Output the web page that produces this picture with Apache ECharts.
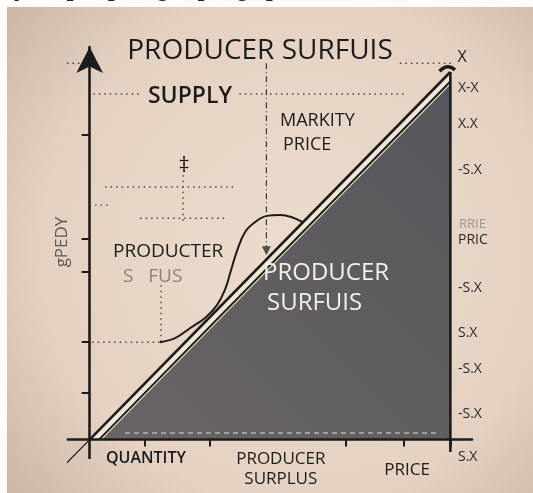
<!DOCTYPE html>
<html>
<head>
<meta charset="utf-8">
<title>Producer surplus</title>
<script src="https://cdn.jsdelivr.net/npm/echarts@6/dist/echarts.min.js"></script>
<style>
  html, body { margin: 0; padding: 0; background: #fdfcfa; }
  #chart { width: 533px; height: 493px; }
</style>
</head>
<body>
<div id="chart"></div>
<script>
// ticks on the two axes (data units, origin at the axes cross)
var xTicks = [15.4, 33.4, 71.1, 87.2, 100]
var yTicks = [12.7, 26.6, 45.7, 54.7, 83.0]

// labels under the quantity axis
var bottomLabels = ['QUANTITY', 'PRODUCER\nSURPLUS', 'PRICE']
var bottomLabelX = [15.6, 53, 88]

// labels to the right of the price edge
var rightLabels = ['X-X', 'X.X', '-S.X', 'PRIC', '-S.X', 'S.X', '-S.X', '-S.X', 'S.X']
var rightLabelY = [95.6, 85.8, 73.3, 54.2, 41.3, 29.0, 19.2, 6.9, -4.8]

// the supply line and the surplus triangle
var outerLine = [[0, 0], [100, 100]]
var innerLine = [[2.6, 0], [100, 97.4]]
var surplusEdge = [[3.4, 0], [100, 96.6]]
var lineTail = [[-8.3, -8.3], [0, 0]]
var priceEdge = [[100, -3.4], [100, 100]]
var lineCap = [[97, 100.2], [99.4, 101.4], [101.3, 100.6]]

// the s-shaped supply curve
var supplyCurve = [
  [19.5, 26.5], [23.7, 27.6], [27.8, 30.3], [32.0, 33.1], [35.3, 36.6],
  [37.5, 40.7], [39.2, 46.1], [40.9, 51.5], [43.1, 56.5], [45.9, 59.2],
  [48.9, 60.8], [52.8, 61.1], [56.1, 60.5], [58.9, 59.2]
]

// dotted guide lines
var guideLines = [
  [[-6.3, 102.4], [0, 102.4]],
  [[86, 102.4], [101, 102.4]],
  [[1, 94], [14.5, 94]],
  [[41.5, 94], [48, 94]],
  [[50, 94], [87.5, 94]],
  [[4.3, 68.7], [40.6, 68.7]],
  [[1.5, 63.8], [5.7, 63.8]],
  [[14, 60.2], [38.4, 60.2]],
  [[25.9, 71.9], [25.9, 59.2]],
  [[0.7, 26.5], [19.5, 26.5]],
  [[19.8, 42], [19.8, 26.5]]
]
var marketLine = [[49, 102.4], [49, 52.4]]
var marketArrow = [[49, 51.4]]
var baseDashes = [[9.8, 1.8], [97.2, 1.8]]

var ink = '#1c1c1c'
var font = 'Open Sans'

var chart = echarts.init(document.getElementById('chart'))

function plainLine(name, data, width, extra) {
  var s = {
    name: name,
    type: 'line',
    data: data,
    symbol: 'none',
    silent: true,
    clip: false,
    z: 5,
    lineStyle: { color: ink, width: width }
  }
  return Object.assign(s, extra || {})
}

var series = [
  plainLine('band', outerLine, 0, {
    z: 2,
    areaStyle: { color: '#f1e5d6', opacity: 1 }
  }),
  plainLine('surplus', surplusEdge, 0, {
    z: 3,
    areaStyle: {
      opacity: 1,
      color: new echarts.graphic.LinearGradient(1, 0, 0, 1, [
        { offset: 0, color: '#55565b' },
        { offset: 1, color: '#6a6563' }
      ])
    }
  }),
  plainLine('inner', innerLine, 2),
  plainLine('outer', outerLine, 2.6),
  plainLine('tail', lineTail, 1.3),
  plainLine('priceEdge', priceEdge, 2.6),
  plainLine('cap', lineCap, 3.5, { smooth: true }),
  plainLine('supply', supplyCurve, 2, { smooth: 0.4, z: 6 }),
  plainLine('market', marketLine, 1.2, {
    lineStyle: { color: '#3a3a3a', width: 1.2, type: [6, 3, 1, 3] }
  }),
  plainLine('baseDashes', baseDashes, 1.5, {
    z: 4,
    lineStyle: { color: '#b8b2ab', width: 1.5, type: [5, 4] }
  }),
  {
    name: 'marketArrow',
    type: 'scatter',
    data: marketArrow,
    symbol: 'triangle',
    symbolRotate: 180,
    symbolSize: [9, 9],
    itemStyle: { color: '#2a2a2a' },
    silent: true,
    z: 6
  }
]
guideLines.forEach(function (g, i) {
  series.push(plainLine('guide' + i, g, 1.4, {
    z: 4,
    lineStyle: { color: '#4a4744', width: 1.4, type: [1.5, 4] }
  }))
})

function txt(text, x, y, size, opts) {
  var o = opts || {}
  return {
    type: 'text',
    x: x,
    y: y,
    rotation: o.rotation || 0,
    z: 100,
    silent: true,
    style: {
      text: text,
      font: (o.weight || 'normal') + ' ' + size + 'px "' + font + '"',
      fill: o.color || ink,
      align: o.align || 'center',
      verticalAlign: 'middle',
      shadowBlur: o.shadow ? 2 : 0,
      shadowColor: o.shadow || 'transparent'
    }
  }
}

var option = {
  backgroundColor: '#fdfcfa',
  animation: false,
  grid: { left: 68, right: 61, top: 47, bottom: 35, z: 10, outerBoundsMode: 'none', containLabel: false },
  xAxis: {
    type: 'value',
    min: -6,
    max: 106,
    z: 10,
    splitLine: { show: false },
    axisLine: {
      show: true,
      onZero: true,
      onZeroAxisIndex: 0,
      lineStyle: { color: ink, width: 2.6 }
    },
    axisTick: {
      show: true,
      customValues: xTicks,
      length: 7,
      lineStyle: { color: ink, width: 2 }
    },
    axisLabel: {
      show: true,
      customValues: bottomLabelX,
      margin: -9,
      color: ink,
      fontFamily: font,
      formatter: function (v) {
        var i = bottomLabelX.indexOf(v)
        if (i === 0) return '{q|' + bottomLabels[0] + '}'
        if (i === 1) {
          return bottomLabels[1].split('\n').map(function (s) { return '{p|' + s + '}' }).join('\n')
        }
        if (i === 2) return '{r|' + bottomLabels[2] + '}'
        return ''
      },
      rich: {
        q: { fontSize: 16, fontWeight: 600, fontFamily: font, color: ink, lineHeight: 18 },
        p: { fontSize: 17, fontFamily: font, color: ink, lineHeight: 20 },
        r: { fontSize: 17, fontFamily: font, color: ink, lineHeight: 20, padding: [22, 0, 0, 0] }
      }
    }
  },
  yAxis: [
    {
      type: 'value',
      min: -5,
      max: 106.8,
      z: 10,
      splitLine: { show: false },
      axisLine: {
        show: true,
        onZero: true,
        symbol: ['none', 'arrow'],
        symbolSize: [20, 26],
        lineStyle: { color: ink, width: 2.6 }
      },
      axisTick: {
        show: true,
        customValues: yTicks,
        length: 8,
        lineStyle: { color: ink, width: 2 }
      },
      axisLabel: { show: false }
    },
    {
      type: 'value',
      position: 'right',
      offset: -22,
      min: -5,
      max: 106.8,
      z: 10,
      splitLine: { show: false },
      axisLine: { show: false, onZero: false },
      axisTick: { show: false },
      axisLabel: {
        show: true,
        customValues: rightLabelY,
        margin: 8,
        color: '#2a2a2a',
        fontSize: 14,
        fontFamily: font,
        formatter: function (v) {
          var i = rightLabelY.indexOf(v)
          return i >= 0 ? rightLabels[i] : ''
        }
      }
    }
  ],
  graphic: [
    // the picture sits on a slightly worn paper sheet
    {
      type: 'text',
      x: 6,
      y: 2,
      z: -20,
      silent: true,
      style: {
        text: 'ly) a proper graph gap',
        font: '24px "DejaVu Serif"',
        fill: '#222',
        verticalAlign: 'bottom'
      }
    },
    {
      type: 'rect',
      z: -10,
      silent: true,
      shape: { x: 7, y: 7, width: 526, height: 486 },
      style: {
        fill: new echarts.graphic.RadialGradient(0.55, 0.5, 0.75, [
          { offset: 0, color: '#ecdccd' },
          { offset: 0.7, color: '#e4d1c1' },
          { offset: 1, color: '#cdb9a9' }
        ])
      }
    },
    txt('PRODUCER SURFUIS', 260, 51, 28),
    txt('X', 462, 57, 16),
    txt('SUPPLY', 190, 96, 23, { weight: 600 }),
    txt('MARKITY', 280, 121, 18, { align: 'left' }),
    txt('PRICE', 283, 145, 18, { align: 'left' }),
    txt('\u2021', 184, 166, 22),
    txt('PRODUCTER', 113, 252, 19, { align: 'left' }),
    txt('S   FUS', 123, 277, 19, { align: 'left', color: '#8a837c' }),
    txt('PRODUCER', 263, 273, 24, { align: 'left', color: '#f4efe8', shadow: 'rgba(0,0,0,0.8)' }),
    txt('SURFUIS', 267, 303, 24, { align: 'left', color: '#f4efe8', shadow: 'rgba(0,0,0,0.8)' }),
    txt('RRIE', 459, 224, 13, { align: 'left', color: '#a0968e' }),
    txt('gPEDY', 62, 242, 17, { rotation: Math.PI / 2, color: '#5e5650' })
  ],
  series: series
}

chart.setOption(option)
</script>
</body>
</html>
